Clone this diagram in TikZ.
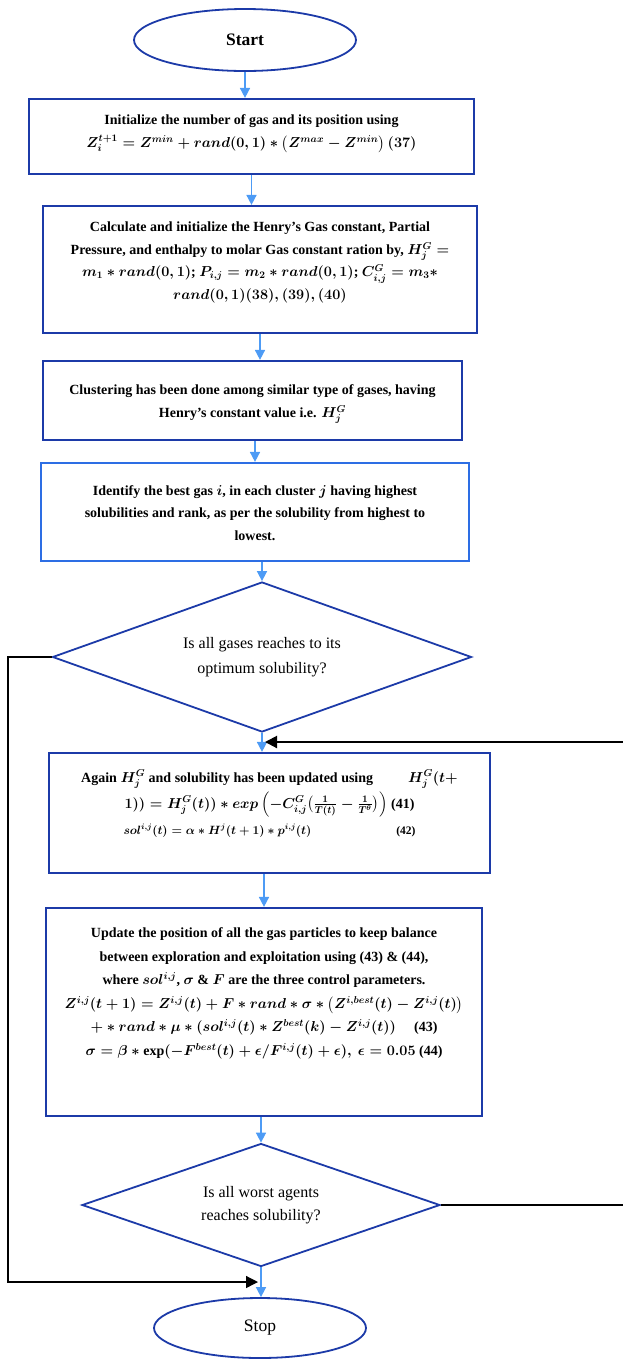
\documentclass[tikz,border=0pt]{standalone}
\usepackage{amsmath}
\usepackage{amssymb}
\usepackage{bm}
\usepackage{fontspec}
\setmainfont{Liberation Serif}
\usepackage{tikz}
\usetikzlibrary{positioning}
\usetikzlibrary{shapes.geometric}
\usetikzlibrary{arrows.meta}

\definecolor{frameblue}{RGB}{28,58,168}
\definecolor{lightframe}{RGB}{45,110,228}
\definecolor{arrowblue}{RGB}{77,155,245}

\tikzset{
  stepbox/.style={draw=frameblue, line width=2.2pt, rectangle, inner sep=0pt},
  boxtext/.style={align=center, inner sep=0pt, anchor=north, font=\bfseries\boldmath\fontsize{14}{22.5}\selectfont},
  terminal/.style={ellipse, draw=frameblue, line width=1.8pt, inner sep=0pt, font=\fontsize{17.5}{20}\selectfont},
  decide/.style={diamond, aspect=2.8, draw=frameblue, line width=1.8pt, inner sep=0pt, align=center, font=\fontsize{16}{25}\selectfont},
  flow/.style={draw=arrowblue, line width=1.6pt, -{Triangle[width=10pt,length=10pt]}},
  back/.style={draw=black, line width=1.3pt, -{Triangle[width=12pt,length=12pt]}}
}

\begin{document}
\begin{tikzpicture}[x=1pt, y=-1pt]
  \useasboundingbox (0,0) rectangle (623,1361);

  % terminals
  \node[terminal, minimum width=222pt, minimum height=62pt] (start) at (245,40) {\bfseries Start};
  \node[terminal, minimum width=212pt, minimum height=60pt] (stop) at (260,1328) {Stop};

  % process boxes
  \node[stepbox, minimum width=445pt, minimum height=75pt] (init) at (251.5,136.5) {};
  \node[stepbox, minimum width=434pt, minimum height=127pt] (henry) at (260,269.5) {};
  \node[stepbox, minimum width=419pt, minimum height=79pt] (cluster) at (252.5,400.5) {};
  \node[stepbox, draw=lightframe, minimum width=428pt, minimum height=98pt] (rank) at (255,512) {};
  \node[stepbox, minimum width=441pt, minimum height=120pt] (update) at (269.5,813) {};
  \node[stepbox, minimum width=436pt, minimum height=208pt] (move) at (264,1012) {};

  % decisions
  \node[decide, minimum width=419pt, minimum height=150pt] (check1) at (262,657) {Is all gases reaches to its\\optimum solubility?};
  \node[decide, minimum width=358pt, minimum height=123pt, font=\fontsize{16}{23}\selectfont] (check2) at (261,1205) {Is all worst agents\\reaches solubility?};

  % box texts
  \node[boxtext] (initT) at ([yshift=-17pt]init.north)
    {Initialize the number of gas and its position using\\
     $Z_i^{t+1} = Z^{min} + rand(0,1) * \left(Z^{max} - Z^{min}\right)(37)$};
  \node[boxtext] (henryT) at ([yshift=-17pt]henry.north)
    {Calculate and initialize the Henry's Gas constant, Partial\\
     Pressure, and enthalpy to molar Gas constant ration by, $H_j^G =$\\
     $m_1 * rand(0,1)$; $P_{i,j} = m_2 * rand(0,1)$; $C_{i,j}^G = m_3 *$\\
     $rand(0,1)(38), (39), (40)$};
  \node[boxtext] (clusterT) at ([yshift=-25pt]cluster.north)
    {Clustering has been done among similar type of gases, having\\
     Henry's constant value i.e. $H_j^G$};
  \node[boxtext] (rankT) at ([yshift=-23pt]rank.north)
    {Identify the best gas $i$, in each cluster $j$ having highest\\
     solubilities and rank, as per the solubility from highest to\\
     lowest.};
  \node[boxtext, font=\bfseries\boldmath\fontsize{14}{26}\selectfont] (updateT) at ([yshift=-18pt]update.north)
    {Again $H_j^G$ and solubility has been updated using\hspace{2.5em}$H_j^G(t+$\\
     $1)) = H_j^G(t)) * exp\left(-C_{i,j}^G\big(\frac{1}{T(t)} - \frac{1}{T^{\theta}}\big)\right)$ (41)\\
     \makebox[292pt]{\fontsize{11.5}{13}\selectfont $sol^{i,j}(t) = \alpha * H^j(t+1) * p^{i,j}(t)$\hfill(42)}};
  \node[boxtext, font=\bfseries\boldmath\fontsize{14}{23.5}\selectfont] (moveT) at ([yshift=-21pt]move.north)
    {Update the position of all the gas particles to keep balance\\
     between exploration and exploitation using (43) \& (44),\\
     where $sol^{i,j}$, $\sigma$ \& $F$ are the three control parameters.\\
     $Z^{i,j}(t+1) = Z^{i,j}(t) + F * rand * \sigma * \left(Z^{i,best}(t) - Z^{i,j}(t)\right)$\\
     $+ * rand * \mu * (sol^{i,j}(t) * Z^{best}(k) - Z^{i,j}(t))$\hspace{1.3em}(43)\\
     $\sigma = \beta * \exp(-F^{best}(t) + \epsilon/F^{i,j}(t) + \epsilon),\ \epsilon = 0.05$ (44)};

  % loop ends
  \coordinate (loopL) at (8,657);
  \coordinate (joinS) at (258,1282);
  \coordinate (rimB) at (623,1205);
  \coordinate (rimT) at (623,742);
  \coordinate (joinU) at (265,742);

  % main flow
  \draw[flow] (start.south) -- (start.south |- init.north);
  \draw[flow] (init.south) -- (init.south |- henry.north);
  \draw[flow] (henry.south) -- (henry.south |- cluster.north);
  \draw[flow] (rank.north |- cluster.south) -- (rank.north);
  \draw[flow] (check1.north |- rank.south) -- (check1.north);
  \draw[flow] (check1.south) -- (check1.south |- update.north);
  \draw[flow] (move.north |- update.south) -- (move.north);
  \draw[flow] (check2.north |- move.south) -- (check2.north);
  \draw[flow] (check2.south) -- (check2.south |- stop.north);

  % yes / no branches
  \draw[back] (check1.west) -- (loopL) |- (joinS);
  \draw[line width=1.3pt] (check2.east) -- (rimB);
  \draw[back, line width=2pt] (rimT) -- (joinU);
\end{tikzpicture}
\end{document}
